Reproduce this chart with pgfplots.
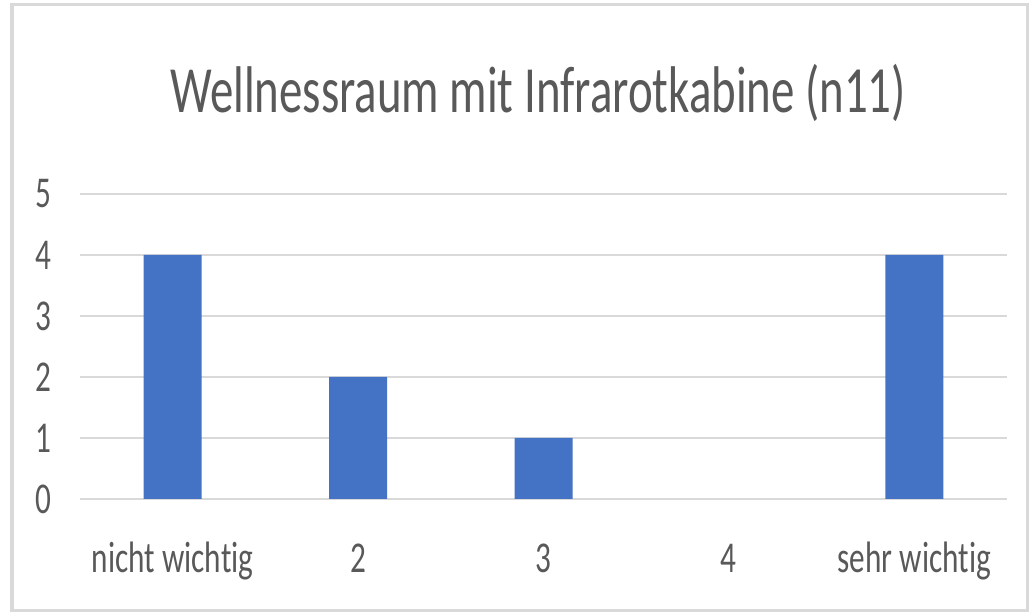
\documentclass[border=0pt]{standalone}
\usepackage{fontspec}
\setmainfont{Carlito}[FakeStretch=0.71, Ligatures={NoCommon}]
\usepackage{pgfplots}
\pgfplotsset{compat=1.18}
\definecolor{barblue}{HTML}{4472C4}
\definecolor{gridgray}{HTML}{D9D9D9}
\definecolor{txtgray}{HTML}{595959}
\begin{document}
\begin{tikzpicture}
\useasboundingbox (-40pt,-57.5pt) rectangle (476.5pt,249.5pt);
\fill[white] (-40pt,-57.5pt) rectangle (476.5pt,249.5pt);
\draw[gridgray, line width=1.5pt] (-34pt,-56pt) rectangle (473.5pt,247pt);
\begin{axis}[
  at={(0,0)}, anchor=south west,
  scale only axis, width=463.5pt, height=152.5pt,
  xmin=-0.5, xmax=4.5, ymin=0, ymax=5,
  axis line style={draw=none},
  major tick length=0pt,
  xtick={0,1,2,3,4},
  xticklabels={nicht wichtig,2,3,4,sehr wichtig},
  ytick={0,1,2,3,4,5},
  ymajorgrids, grid style={gridgray, line width=1pt},
  tick label style={font=\fontsize{22}{26}\selectfont, text=txtgray},
  /pgf/number format/assume math mode=true,
  yticklabel style={anchor=east, inner sep=0pt, xshift=-14pt},
  xticklabel style={anchor=base, inner sep=0pt, yshift=-37pt},
  clip=false,
]
% category "4" has no responses (value 0), so no bar is drawn
\addplot[ybar, bar width=29pt, fill=barblue, draw=none] coordinates {(0,4) (1,2) (2,1) (4,4)};
\end{axis}
\node[anchor=base, text=txtgray, font=\fontsize{33}{40}\selectfont] at (229pt,193pt) {Wellnessraum mit Infrarotkabine (n11)};
\end{tikzpicture}
\end{document}
